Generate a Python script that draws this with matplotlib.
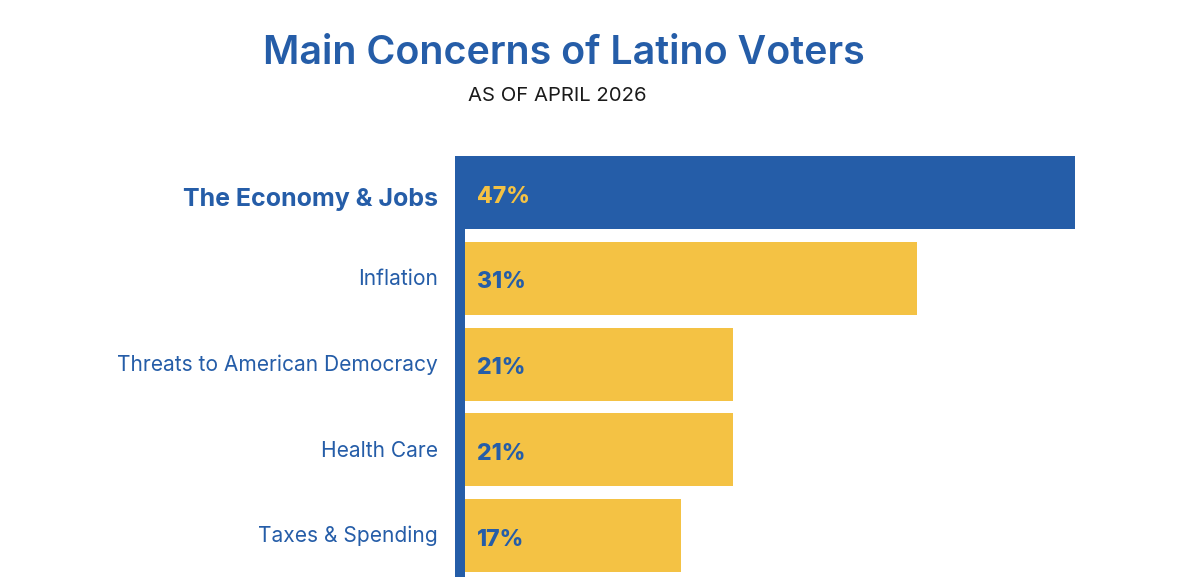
import matplotlib
matplotlib.use("Agg")
import matplotlib.pyplot as plt

categories = ["The Economy & Jobs", "Inflation", "Threats to American Democracy",
              "Health Care", "Taxes & Spending"]
pct_labels = [47, 31, 21, 21, 17]          # printed values
bar_lengths = [47, 35.05, 21.1, 21.1, 17.1]  # bar lengths as drawn in the picture

BLUE = "#255DA8"
YELLOW = "#F4C244"
FONT = ["Inter", "DejaVu Sans"]

W, H = 1200, 577
fig = plt.figure(figsize=(W / 100, H / 100), dpi=100)
fig.patch.set_facecolor("white")

ax_left, ax_right = 455, 1200
ax_top, ax_bottom = 156, 577
ax = fig.add_axes([ax_left / W, 1 - ax_bottom / H, (ax_right - ax_left) / W,
                   (ax_bottom - ax_top) / H])
px_per_unit = 13.19
ax.set_xlim(0, (ax_right - ax_left) / px_per_unit)
pitch = 85.75
ax.set_ylim((ax_bottom - 192.5) / pitch, -(192.5 - ax_top) / pitch)
ax.axis("off")

ypos = list(range(len(categories)))
colors = [BLUE] + [YELLOW] * (len(categories) - 1)
ax.barh(ypos, bar_lengths, height=73 / pitch, color=colors, left=0, zorder=2)

line_w = 10 / px_per_unit
ax.axvspan(0, line_w, ymin=0, ymax=1, color=BLUE, zorder=3, lw=0)

for i, (cat, p) in enumerate(zip(categories, pct_labels)):
    if i == 0:
        ax.text(-17 / px_per_unit, i + 13.5 / pitch, cat, ha="right", va="baseline",
                fontsize=18, fontweight="bold", color=BLUE, family=FONT, clip_on=False)
        ax.text(22 / px_per_unit, i + 10.5 / pitch, f"{p}%", ha="left", va="baseline",
                fontsize=16.5, fontweight="heavy", color=YELLOW, family=FONT)
    else:
        ax.text(-17 / px_per_unit, i + 7 / pitch, cat, ha="right", va="baseline",
                fontsize=15.1, color=BLUE, family=FONT, clip_on=False)
        ax.text(12 / px_per_unit + line_w, i + 10 / pitch, f"{p}%", ha="left",
                va="baseline", fontsize=16.5, fontweight="heavy", color=BLUE, family=FONT)

fig.text(564 / W, 1 - 64 / H, "Main Concerns of Latino Voters", ha="center",
         va="baseline", fontsize=28.4, fontweight="semibold", color=BLUE, family=FONT)
fig.text(557 / W, 1 - 101 / H, "AS OF APRIL 2026", ha="center", va="baseline",
         fontsize=14.6, color="#1a1a1a", family=FONT)

fig.savefig("out.png", dpi=100, facecolor="white")
